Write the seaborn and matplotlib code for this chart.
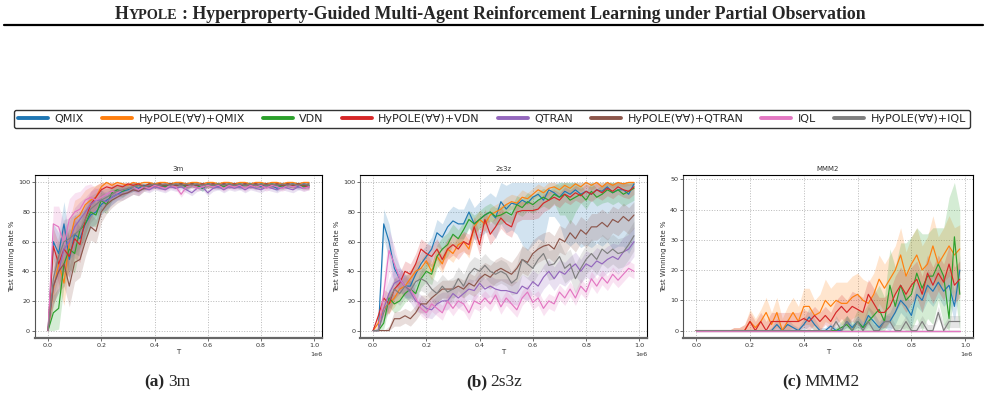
import numpy as np
import pandas as pd
import seaborn as sns
import matplotlib.pyplot as plt
from matplotlib.lines import Line2D

# time steps (x axis), one point every 2e4 steps
T = np.arange(50) * 2e4

methods = ["QMIX", "HyPOLE(∀∀)+QMIX", "VDN", "HyPOLE(∀∀)+VDN",
           "QTRAN", "HyPOLE(∀∀)+QTRAN", "IQL", "HyPOLE(∀∀)+IQL"]
maps = ["3m", "2s3z", "MMM2"]
captions = ["(a)", "(b)", "(c)"]

# ---- 3m : test winning rate (%)
m3_qmix = [0, 60, 52, 72, 48, 65, 62, 72, 78, 80, 85, 88, 90, 92, 94, 95, 97, 96, 98, 97,
           99, 98, 97, 99, 98, 99, 97, 99, 98, 96, 99, 98, 97, 99, 98, 99, 97, 99, 98, 99,
           97, 99, 98, 96, 99, 98, 99, 97, 99, 98]
m3_hy_qmix = [0, 28, 45, 32, 60, 75, 78, 85, 88, 90, 97, 100, 98, 100, 99, 98, 100, 99, 100, 100,
              99, 100, 100, 99, 100, 100, 99, 100, 100, 99, 100, 100, 99, 100, 100, 99, 100, 100, 99, 100,
              100, 99, 100, 100, 99, 100, 100, 99, 100, 100]
m3_vdn = [0, 12, 15, 45, 55, 52, 68, 72, 80, 78, 88, 85, 93, 95, 94, 96, 97, 98, 97, 99,
          98, 99, 97, 99, 98, 99, 97, 99, 98, 96, 99, 98, 99, 97, 99, 98, 99, 98, 99, 97,
          99, 98, 99, 98, 97, 99, 98, 99, 97, 98]
m3_hy_vdn = [0, 57, 45, 55, 50, 62, 58, 75, 85, 90, 95, 97, 96, 98, 97, 99, 98, 99, 97, 99,
             98, 99, 98, 99, 98, 99, 98, 99, 98, 99, 98, 99, 98, 99, 98, 99, 98, 99, 98, 99,
             98, 99, 98, 99, 98, 99, 98, 99, 98, 97]
m3_qtran = [0, 30, 40, 55, 60, 70, 75, 80, 85, 88, 88, 87, 90, 92, 92, 93, 95, 94, 96, 95,
            97, 96, 95, 97, 96, 97, 95, 93, 96, 97, 93, 96, 97, 95, 97, 96, 97, 95, 97, 96,
            95, 97, 96, 95, 97, 96, 95, 97, 96, 97]
m3_hy_qtran = [0, 30, 40, 45, 30, 46, 48, 60, 70, 67, 80, 85, 88, 90, 92, 93, 95, 94, 96, 97,
               98, 97, 98, 99, 98, 99, 98, 99, 98, 99, 98, 99, 98, 99, 98, 99, 98, 99, 98, 99,
               98, 99, 98, 99, 98, 99, 98, 99, 98, 99]
m3_iql = [0, 72, 70, 58, 75, 80, 82, 88, 90, 88, 90, 92, 94, 93, 95, 96, 97, 95, 97, 96,
          98, 97, 96, 98, 97, 92, 97, 98, 96, 97, 98, 97, 98, 96, 98, 97, 98, 96, 98, 97,
          98, 96, 98, 97, 96, 98, 97, 98, 96, 97]
m3_hy_iql = [0, 35, 50, 60, 62, 65, 68, 75, 82, 85, 88, 90, 92, 94, 95, 96, 97, 98, 97, 98,
             99, 98, 99, 98, 99, 98, 99, 98, 99, 98, 99, 98, 99, 98, 99, 98, 99, 98, 99, 98,
             99, 98, 99, 98, 99, 98, 99, 98, 99, 98]
# shaded spread (half width), same for every method on 3m
s3_all = [0, 12, 14, 15, 14, 13, 12, 10, 9, 8, 7, 6, 5, 4, 4, 3, 3, 3, 2, 2,
          2, 2, 2, 2, 2, 2, 2, 2, 2, 2, 2, 2, 2, 2, 2, 2, 2, 2, 2, 2,
          2, 2, 2, 2, 2, 2, 2, 2, 2, 2]

# ---- 2s3z
m2_qmix = [0, 0, 72, 60, 42, 35, 30, 30, 38, 45, 50, 55, 66, 63, 70, 74, 72, 72, 80, 72,
           75, 78, 80, 76, 87, 82, 86, 85, 88, 86, 90, 92, 88, 95, 93, 90, 94, 92, 95, 92,
           94, 92, 95, 94, 97, 93, 95, 95, 92, 99]
m2_hy_qmix = [0, 5, 15, 18, 22, 28, 30, 35, 40, 42, 47, 40, 50, 45, 55, 52, 58, 60, 55, 70,
              75, 72, 78, 80, 82, 85, 87, 86, 90, 89, 92, 95, 93, 96, 97, 95, 98, 96, 99, 97,
              100, 98, 100, 97, 100, 98, 100, 99, 100, 100]
m2_vdn = [0, 0, 5, 22, 18, 20, 25, 28, 25, 35, 40, 38, 50, 55, 58, 65, 62, 68, 75, 72,
          75, 78, 80, 77, 78, 80, 78, 85, 83, 87, 85, 88, 90, 88, 92, 90, 92, 88, 90, 92,
          88, 94, 90, 92, 95, 93, 95, 92, 94, 96]
m2_hy_vdn = [0, 10, 22, 18, 28, 32, 40, 38, 45, 55, 52, 50, 55, 48, 55, 58, 55, 60, 58, 70,
             58, 75, 65, 70, 76, 72, 70, 80, 81, 81, 81, 82, 86, 88, 90, 88, 92, 90, 93, 91,
             94, 92, 95, 93, 96, 94, 97, 95, 94, 97]
m2_qtran = [0, 0, 15, 25, 32, 34, 30, 26, 20, 18, 15, 14, 18, 20, 20, 25, 22, 25, 28, 27,
            32, 28, 30, 28, 27, 27, 26, 25, 30, 28, 33, 30, 36, 40, 35, 40, 38, 42, 45, 40,
            45, 43, 47, 45, 48, 50, 48, 53, 55, 60]
m2_hy_qtran = [0, 0, 0, 0, 8, 8, 10, 8, 12, 18, 18, 22, 25, 28, 28, 28, 30, 28, 32, 30,
               35, 38, 36, 40, 42, 40, 38, 42, 48, 46, 52, 55, 57, 58, 55, 62, 60, 66, 62, 68,
               65, 70, 70, 73, 70, 75, 73, 77, 74, 78]
m2_iql = [0, 0, 25, 54, 45, 35, 30, 28, 22, 15, 12, 18, 15, 12, 20, 15, 20, 18, 12, 20,
          18, 22, 18, 24, 16, 22, 18, 14, 22, 26, 19, 22, 15, 20, 18, 26, 22, 28, 22, 30,
          26, 35, 30, 36, 32, 38, 34, 38, 42, 40]
m2_hy_iql = [0, 0, 12, 20, 28, 25, 30, 27, 33, 35, 33, 28, 25, 30, 26, 28, 35, 30, 38, 42,
             40, 44, 40, 38, 40, 38, 32, 35, 48, 45, 42, 48, 52, 44, 45, 50, 42, 45, 35, 42,
             48, 52, 48, 55, 52, 55, 52, 53, 58, 64]
s2_qmix = [0, 2, 10, 12, 10, 8, 8, 8, 8, 8, 8, 8, 9, 9, 10, 10, 10, 10, 10, 11,
           12, 12, 13, 14, 15, 16, 18, 20, 30, 32, 32, 30, 28, 18, 16, 18, 34, 35, 35, 36,
           36, 36, 36, 37, 37, 38, 38, 38, 40, 40]
s2_hy_qmix = [0, 3, 5, 6, 6, 6, 6, 6, 6, 6, 6, 6, 6, 6, 6, 6, 6, 6, 6, 6,
              6, 5, 5, 5, 5, 5, 5, 5, 5, 4, 4, 4, 4, 4, 3, 3, 3, 3, 3, 3,
              3, 3, 3, 3, 2, 2, 2, 2, 2, 2]
s2_vdn = [0, 0, 4, 6, 6, 6, 6, 6, 6, 6, 7, 7, 8, 8, 8, 7, 6, 6, 6, 6,
          6, 6, 6, 6, 6, 6, 6, 6, 6, 6, 6, 6, 6, 6, 6, 12, 14, 16, 10, 6,
          6, 6, 6, 6, 8, 8, 8, 8, 8, 8]
s2_hy_vdn = [0, 4, 6, 7, 7, 7, 7, 7, 7, 7, 7, 7, 7, 7, 7, 7, 7, 7, 7, 7,
             7, 7, 7, 7, 7, 7, 7, 7, 6, 6, 6, 6, 6, 6, 5, 5, 5, 5, 5, 5,
             5, 5, 5, 5, 5, 5, 5, 5, 5, 5]
s2_qtran = [0, 2, 8, 10, 10, 8, 7, 7, 7, 6, 6, 6, 6, 6, 6, 6, 7, 7, 7, 7,
            7, 7, 7, 7, 8, 8, 8, 8, 8, 8, 8, 8, 8, 8, 8, 8, 8, 8, 8, 8,
            9, 9, 9, 9, 9, 9, 10, 10, 10, 10]
s2_hy_qtran = [0, 0, 0, 3, 5, 5, 5, 5, 5, 6, 6, 6, 6, 6, 6, 6, 6, 6, 7, 7,
               8, 8, 8, 8, 8, 8, 8, 9, 9, 9, 9, 9, 9, 9, 9, 9, 9, 9, 9, 9,
               9, 9, 9, 9, 9, 9, 9, 9, 9, 9]
s2_iql = [0, 2, 10, 14, 12, 8, 6, 5, 5, 5, 5, 5, 5, 5, 5, 5, 5, 5, 5, 5,
          5, 5, 5, 5, 5, 5, 5, 5, 5, 5, 5, 5, 5, 5, 5, 5, 5, 5, 5, 5,
          5, 5, 5, 5, 5, 5, 5, 5, 5, 5]
s2_hy_iql = [0, 0, 5, 8, 8, 8, 8, 8, 8, 8, 8, 8, 8, 8, 8, 8, 8, 8, 8, 8,
             8, 8, 8, 8, 8, 8, 8, 10, 10, 10, 10, 10, 10, 10, 10, 10, 10, 10, 10, 10,
             10, 10, 10, 10, 10, 10, 10, 10, 10, 10]

# ---- MMM2
m1_qmix = [0, 0, 0, 0, 0, 0, 0, 0, 0, 0, 0, 0, 0, 0, 0, 2, 0, 2, 1, 0,
           2, 4.5, 2, 0, 0, 1.5, 0, 0, 3, 1, 3, 1, 5, 3, 1, 3, 3, 6, 10, 8,
           5, 12, 10, 15, 13, 16, 13, 15, 8, 20]
m1_hy_qmix = [0, 0, 0, 0, 0, 0, 0, 0, 0, 0, 3, 1, 3, 6, 2, 6, 0, 3, 6, 3,
              8, 8, 5, 6, 10, 8, 10, 9, 9, 11, 12, 10, 9, 12, 17, 14, 17, 20, 25, 18,
              22, 25, 20, 22, 28, 22, 25, 28, 25, 27]
m1_vdn = [0, 0, 0, 0, 0, 0, 0, 0, 0, 0, 0, 0, 0, 0, 0, 0, 0, 0, 0, 0,
          0, 0, 0, 0, 0, 0, 0, 1, 2, 0, 3, 1, 3, 5, 7, 3, 15, 8, 15, 10,
          12, 19, 14, 18, 18, 22, 18, 4, 31, 12]
m1_hy_vdn = [0, 0, 0, 0, 0, 0, 0, 0, 0, 0, 3, 0, 3, 0, 3, 3, 3, 3, 3, 3,
             4, 3, 5, 3, 5, 3, 6, 8, 6, 8, 7, 6, 12, 9, 6, 6, 8, 12, 15, 12,
             15, 17, 12, 19, 15, 19, 16, 22, 15, 17]
m1_qtran = [0] * 50
m1_hy_qtran = [0] * 50
m1_iql = [0] * 50
m1_hy_iql = [0, 0, 0, 0, 0, 0, 0, 0, 0, 0, 0, 0, 0, 0, 0, 0, 0, 0, 0, 0,
             0, 0, 0, 0, 0, 0, 3, 0, 3, 0, 3, 0, 3, 0, 0, 3, 3, 0, 0, 3,
             0, 0, 3, 0, 0, 6, 0, 3, 3, 3]
s1_qmix = [0, 0, 0, 0, 0, 0, 0, 0, 0, 0, 0, 0, 0, 0, 1, 2, 1, 2, 1, 1,
           2, 3, 2, 1, 1, 1, 1, 1, 2, 1, 2, 2, 3, 3, 2, 2, 3, 4, 4, 4,
           4, 4, 4, 5, 5, 5, 5, 5, 5, 5]
s1_hy_qmix = [0, 0, 0, 0, 0, 0, 0, 1, 1, 2, 4, 3, 4, 5, 4, 5, 4, 5, 5, 5,
              6, 6, 5, 6, 7, 6, 6, 7, 7, 7, 7, 7, 7, 7, 8, 8, 8, 8, 9, 8,
              9, 9, 8, 9, 10, 9, 9, 10, 9, 8]
s1_vdn = [0, 0, 0, 0, 0, 0, 0, 0, 0, 0, 0, 0, 0, 0, 0, 0, 0, 0, 0, 0,
          0, 0, 0, 0, 0, 0, 1, 2, 3, 3, 4, 5, 6, 7, 8, 8, 12, 13, 14, 19,
          19, 15, 18, 14, 16, 12, 16, 40, 18, 28]
s1_hy_vdn = [0, 0, 0, 0, 0, 0, 0, 1, 1, 2, 3, 3, 3, 3, 3, 3, 3, 3, 3, 3,
             3, 3, 3, 3, 3, 3, 4, 4, 4, 5, 5, 5, 5, 5, 5, 5, 5, 6, 6, 6,
             6, 6, 6, 6, 6, 6, 6, 6, 6, 6]
s1_zero = [0] * 50
s1_hy_iql = [0, 0, 0, 0, 0, 0, 0, 0, 0, 0, 0, 0, 0, 0, 0, 0, 0, 0, 0, 0,
             0, 0, 0, 0, 0, 0, 2, 2, 2, 2, 2, 2, 2, 2, 2, 2, 2, 2, 2, 2,
             2, 2, 2, 2, 2, 2, 2, 2, 2, 2]

means = {
    "3m": [m3_qmix, m3_hy_qmix, m3_vdn, m3_hy_vdn, m3_qtran, m3_hy_qtran, m3_iql, m3_hy_iql],
    "2s3z": [m2_qmix, m2_hy_qmix, m2_vdn, m2_hy_vdn, m2_qtran, m2_hy_qtran, m2_iql, m2_hy_iql],
    "MMM2": [m1_qmix, m1_hy_qmix, m1_vdn, m1_hy_vdn, m1_qtran, m1_hy_qtran, m1_iql, m1_hy_iql],
}
spreads = {
    "3m": [s3_all] * 8,
    "2s3z": [s2_qmix, s2_hy_qmix, s2_vdn, s2_hy_vdn, s2_qtran, s2_hy_qtran, s2_iql, s2_hy_iql],
    "MMM2": [s1_qmix, s1_hy_qmix, s1_vdn, s1_hy_vdn, s1_zero, s1_zero, s1_zero, s1_hy_iql],
}

sns.set_style("ticks")
plt.rcParams["font.family"] = ["DejaVu Sans"]
colors = sns.color_palette("tab10", 8)
pal = dict(zip(methods, colors))

fig = plt.figure(figsize=(9.85, 3.96), dpi=100)
positions = [[0.0355, 0.1465, 0.2914, 0.4116],
             [0.3655, 0.1465, 0.2914, 0.4116],
             [0.6934, 0.1465, 0.2944, 0.4116]]

for k, name in enumerate(maps):
    ax = fig.add_axes(positions[k])
    rows = []
    for i, m in enumerate(methods):
        mu = np.array(means[name][i], dtype=float)
        sd = np.array(spreads[name][i], dtype=float)
        lo = np.clip(mu - sd, 0, 100)
        hi = np.clip(mu + sd, 0, 100)
        ax.fill_between(T, lo, hi, color=colors[i], alpha=0.2, lw=0)
        rows.append(pd.DataFrame({"T": T, "rate": mu, "method": m}))
    df = pd.concat(rows, ignore_index=True)
    sns.lineplot(data=df, x="T", y="rate", hue="method", hue_order=methods,
                 palette=pal, lw=0.85, legend=False, ax=ax)
    ax.set_title(name, fontsize=5, pad=3, color="#333333")
    ax.set_xlabel("T", fontsize=5, labelpad=1, color="#333333")
    ax.set_ylabel("Test Winning Rate %", fontsize=5, labelpad=2, color="#333333")
    ax.tick_params(labelsize=4.6, length=2, width=0.5, pad=1.5, colors="#333333")
    ax.xaxis.get_offset_text().set_fontsize(4.6)
    ax.xaxis.get_offset_text().set_color("#333333")
    ax.grid(True, ls=":", color="#b8b8b8", lw=0.7)
    for side in ["top", "right"]:
        ax.spines[side].set_color("black")
        ax.spines[side].set_linewidth(0.8)
    ax.spines["left"].set_color("#555555")
    ax.spines["left"].set_linewidth(0.8)
    ax.spines["bottom"].set_color("#666666")
    ax.spines["bottom"].set_linewidth(1.6)

# legend across the top
handles = [Line2D([], [], color=colors[i], lw=2.8) for i in range(8)]
fig.legend(handles, methods, loc="center", bbox_to_anchor=(0.4995, 0.6995), ncol=8,
           fontsize=8, handlelength=2.7, handletextpad=0.6, columnspacing=1.6,
           frameon=True, edgecolor="black", fancybox=True, borderpad=0.35)

# header rule
fig.add_artist(Line2D([0.004, 0.998], [1 - 25 / 396, 1 - 25 / 396], color="black", lw=1.6))

serif = "Liberation Serif"
renderer = fig.canvas.get_renderer()


def put_pieces(pieces, xc, y):
    objs = []
    for s, fs, w, gap in pieces:
        objs.append((fig.text(0, y, s, fontsize=fs, fontweight=w, family=serif,
                              va="baseline", ha="left"), gap))
    widths = [o.get_window_extent(renderer).width / fig.bbox.width for o, _ in objs]
    gaps = [g / 985 for _, g in objs]
    total = sum(widths) + sum(gaps)
    x = xc - total / 2
    for (o, _), wdt, g in zip(objs, widths, gaps):
        x += g
        o.set_x(x)
        x += wdt


put_pieces([("H", 12.8, "bold", 0), ("YPOLE", 10.2, "bold", 0.5),
            (": Hyperproperty-Guided Multi-Agent Reinforcement Learning under Partial Observation",
             12.8, "bold", 4)], 0.4975, 1 - 19 / 396)

centers = [0.1695, 0.5015, 0.8335]
for k, name in enumerate(maps):
    put_pieces([(captions[k], 12.5, "bold", 0), (name, 12.5, "normal", 3.5)],
               centers[k], 1 - 386 / 396)

fig.savefig("out.png", dpi=100)
